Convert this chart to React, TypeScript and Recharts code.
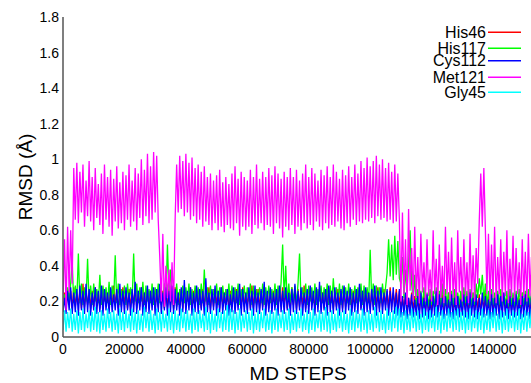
import React from 'react';
import { LineChart, Line, XAxis, YAxis, Legend, Label } from 'recharts';

// Sampling interval of the digitised trajectory (MD steps between samples)
const STEP = 500;

const his46: number[] = [
  0.17, 0.25, 0.16, 0.27, 0.18, 0.26, 0.16, 0.28, 0.17, 0.25,
  0.18, 0.26, 0.16, 0.3, 0.17, 0.25, 0.18, 0.27, 0.16, 0.26,
  0.17, 0.28, 0.18, 0.25, 0.16, 0.27, 0.17, 0.26, 0.18, 0.25,
  0.16, 0.27, 0.17, 0.29, 0.18, 0.26, 0.16, 0.25, 0.17, 0.28,
  0.18, 0.26, 0.16, 0.27, 0.17, 0.25, 0.18, 0.3, 0.16, 0.26,
  0.17, 0.28, 0.18, 0.25, 0.16, 0.27, 0.17, 0.26, 0.18, 0.25,
  0.16, 0.27, 0.17, 0.28, 0.18, 0.26, 0.16, 0.25, 0.17, 0.27,
  0.18, 0.26, 0.16, 0.28, 0.17, 0.25, 0.18, 0.27, 0.16, 0.26,
  0.17, 0.25, 0.18, 0.28, 0.16, 0.26, 0.17, 0.27, 0.18, 0.25,
  0.16, 0.27, 0.17, 0.26, 0.18, 0.28, 0.16, 0.25, 0.17, 0.27,
  0.18, 0.26, 0.16, 0.28, 0.17, 0.25, 0.18, 0.27, 0.16, 0.26,
  0.17, 0.25, 0.16, 0.27, 0.18, 0.26, 0.16, 0.28, 0.17, 0.25,
  0.18, 0.26, 0.16, 0.29, 0.17, 0.25, 0.18, 0.27, 0.16, 0.26,
  0.17, 0.28, 0.18, 0.25, 0.16, 0.27, 0.17, 0.26, 0.18, 0.25,
  0.16, 0.27, 0.17, 0.28, 0.18, 0.26, 0.16, 0.25, 0.17, 0.28,
  0.18, 0.26, 0.16, 0.27, 0.17, 0.25, 0.18, 0.29, 0.16, 0.26,
  0.17, 0.28, 0.18, 0.25, 0.16, 0.27, 0.17, 0.26, 0.18, 0.25,
  0.16, 0.27, 0.17, 0.28, 0.18, 0.26, 0.16, 0.25, 0.17, 0.27,
  0.18, 0.26, 0.16, 0.28, 0.17, 0.25, 0.18, 0.27, 0.16, 0.26,
  0.17, 0.25, 0.18, 0.28, 0.16, 0.26, 0.17, 0.27, 0.18, 0.25,
  0.16, 0.27, 0.17, 0.26, 0.18, 0.28, 0.16, 0.25, 0.17, 0.27,
  0.18, 0.26, 0.16, 0.28, 0.17, 0.25, 0.18, 0.27, 0.16, 0.26,
  0.15, 0.23, 0.16, 0.24, 0.15, 0.22, 0.16, 0.25, 0.15, 0.23,
  0.16, 0.24, 0.15, 0.22, 0.16, 0.25, 0.15, 0.23, 0.16, 0.24,
  0.15, 0.22, 0.16, 0.25, 0.15, 0.23, 0.16, 0.24, 0.15, 0.22,
  0.16, 0.25, 0.15, 0.23, 0.16, 0.24, 0.15, 0.22, 0.16, 0.25,
  0.15, 0.23, 0.16, 0.24, 0.15, 0.22, 0.16, 0.25, 0.15, 0.23,
  0.16, 0.24, 0.15, 0.22, 0.16, 0.25, 0.15, 0.23, 0.16, 0.24,
  0.15, 0.22, 0.16, 0.25, 0.15, 0.23, 0.16, 0.24, 0.15, 0.22,
  0.16, 0.25, 0.15, 0.23, 0.16, 0.24, 0.15, 0.22, 0.16, 0.25,
  0.15, 0.23, 0.16, 0.24, 0.15, 0.22, 0.16,
];

const his117: number[] = [
  0.15, 0.24, 0.18, 0.28, 0.2, 0.3, 0.42, 0.19, 0.29, 0.2,
  0.47, 0.19, 0.3, 0.18, 0.28, 0.2, 0.44, 0.19, 0.29, 0.18,
  0.3, 0.2, 0.27, 0.19, 0.35, 0.18, 0.29, 0.2, 0.28, 0.19,
  0.31, 0.18, 0.29, 0.2, 0.46, 0.19, 0.3, 0.18, 0.27, 0.2,
  0.29, 0.18, 0.3, 0.2, 0.28, 0.19, 0.47, 0.2, 0.3, 0.19,
  0.28, 0.2, 0.31, 0.18, 0.29, 0.2, 0.27, 0.19, 0.3, 0.18,
  0.28, 0.2, 0.3, 0.19, 0.27, 0.21, 0.3, 0.22, 0.52, 0.25,
  0.38, 0.2, 0.28, 0.19, 0.3, 0.18, 0.27, 0.2, 0.29, 0.19,
  0.28, 0.2, 0.3, 0.18, 0.27, 0.19, 0.29, 0.2, 0.28, 0.18,
  0.3, 0.19, 0.38, 0.2, 0.28, 0.18, 0.29, 0.2, 0.27, 0.19,
  0.3, 0.18, 0.28, 0.2, 0.29, 0.19, 0.27, 0.2, 0.3, 0.18,
  0.29, 0.2, 0.28, 0.19, 0.3, 0.18, 0.27, 0.2, 0.29, 0.19,
  0.28, 0.2, 0.3, 0.18, 0.29, 0.19, 0.27, 0.2, 0.28, 0.19,
  0.3, 0.18, 0.28, 0.2, 0.29, 0.19, 0.27, 0.2, 0.3, 0.18,
  0.29, 0.2, 0.31, 0.52, 0.22, 0.4, 0.2, 0.3, 0.19, 0.28,
  0.2, 0.29, 0.18, 0.3, 0.47, 0.2, 0.28, 0.19, 0.3, 0.18,
  0.29, 0.2, 0.28, 0.19, 0.3, 0.18, 0.27, 0.2, 0.29, 0.19,
  0.28, 0.2, 0.3, 0.18, 0.29, 0.19, 0.33, 0.2, 0.28, 0.19,
  0.3, 0.18, 0.29, 0.2, 0.28, 0.19, 0.3, 0.18, 0.27, 0.2,
  0.29, 0.19, 0.28, 0.2, 0.3, 0.18, 0.29, 0.2, 0.28, 0.19,
  0.49, 0.2, 0.3, 0.18, 0.29, 0.2, 0.28, 0.19, 0.3, 0.2,
  0.28, 0.36, 0.55, 0.34, 0.52, 0.32, 0.57, 0.35, 0.54, 0.33,
  0.3, 0.45, 0.22, 0.38, 0.25, 0.42, 0.6, 0.3, 0.2, 0.35,
  0.18, 0.27, 0.19, 0.26, 0.17, 0.28, 0.18, 0.25, 0.17, 0.27,
  0.18, 0.26, 0.17, 0.28, 0.19, 0.26, 0.18, 0.3, 0.17, 0.27,
  0.18, 0.25, 0.17, 0.26, 0.18, 0.27, 0.17, 0.25, 0.18, 0.26,
  0.17, 0.28, 0.19, 0.26, 0.18, 0.27, 0.17, 0.25, 0.18, 0.3,
  0.22, 0.33, 0.24, 0.35, 0.2, 0.3, 0.18, 0.26, 0.17, 0.27,
  0.18, 0.25, 0.17, 0.26, 0.18, 0.27, 0.17, 0.25, 0.18, 0.26,
  0.17, 0.27, 0.18, 0.25, 0.17, 0.26, 0.18, 0.27, 0.17, 0.25,
  0.18, 0.26, 0.17, 0.27, 0.18, 0.25, 0.17,
];

const cys112: number[] = [
  0.14, 0.22, 0.13, 0.26, 0.15, 0.28, 0.13, 0.25, 0.14, 0.27,
  0.12, 0.29, 0.15, 0.26, 0.13, 0.3, 0.14, 0.27, 0.12, 0.25,
  0.15, 0.28, 0.13, 0.26, 0.14, 0.29, 0.12, 0.27, 0.15, 0.25,
  0.13, 0.28, 0.14, 0.24, 0.15, 0.27, 0.12, 0.3, 0.14, 0.26,
  0.13, 0.28, 0.15, 0.25, 0.12, 0.27, 0.14, 0.31, 0.13, 0.26,
  0.15, 0.28, 0.12, 0.25, 0.14, 0.29, 0.13, 0.26, 0.15, 0.28,
  0.12, 0.27, 0.14, 0.3, 0.13, 0.25, 0.15, 0.28, 0.12, 0.26,
  0.14, 0.29, 0.13, 0.27, 0.15, 0.25, 0.12, 0.28, 0.14, 0.32,
  0.13, 0.26, 0.15, 0.28, 0.12, 0.25, 0.14, 0.29, 0.13, 0.27,
  0.15, 0.26, 0.12, 0.33, 0.14, 0.25, 0.13, 0.27, 0.15, 0.29,
  0.12, 0.26, 0.14, 0.28, 0.13, 0.25, 0.15, 0.27, 0.12, 0.24,
  0.14, 0.28, 0.13, 0.26, 0.15, 0.3, 0.12, 0.27, 0.14, 0.25,
  0.13, 0.28, 0.15, 0.26, 0.12, 0.29, 0.14, 0.25, 0.13, 0.27,
  0.15, 0.31, 0.12, 0.26, 0.14, 0.28, 0.13, 0.25, 0.15, 0.27,
  0.12, 0.29, 0.14, 0.26, 0.13, 0.28, 0.15, 0.25, 0.12, 0.27,
  0.14, 0.3, 0.13, 0.26, 0.15, 0.28, 0.12, 0.25, 0.14, 0.27,
  0.13, 0.29, 0.15, 0.26, 0.12, 0.28, 0.14, 0.31, 0.13, 0.25,
  0.15, 0.27, 0.12, 0.29, 0.14, 0.26, 0.13, 0.28, 0.15, 0.25,
  0.12, 0.27, 0.14, 0.29, 0.13, 0.26, 0.15, 0.28, 0.12, 0.25,
  0.14, 0.27, 0.13, 0.3, 0.15, 0.26, 0.12, 0.28, 0.14, 0.25,
  0.13, 0.27, 0.15, 0.29, 0.12, 0.26, 0.14, 0.28, 0.13, 0.25,
  0.15, 0.27, 0.12, 0.26, 0.14, 0.28, 0.13, 0.25, 0.12, 0.27,
  0.11, 0.23, 0.12, 0.25, 0.1, 0.22, 0.12, 0.24, 0.11, 0.21,
  0.12, 0.23, 0.1, 0.25, 0.11, 0.22, 0.12, 0.24, 0.1, 0.21,
  0.11, 0.23, 0.12, 0.26, 0.11, 0.24, 0.12, 0.22, 0.1, 0.23,
  0.12, 0.21, 0.11, 0.24, 0.1, 0.22, 0.12, 0.23, 0.11, 0.21,
  0.12, 0.24, 0.11, 0.23, 0.1, 0.25, 0.12, 0.22, 0.11, 0.24,
  0.1, 0.22, 0.12, 0.25, 0.11, 0.23, 0.12, 0.21, 0.1, 0.24,
  0.11, 0.22, 0.12, 0.24, 0.1, 0.23, 0.11, 0.25, 0.12, 0.21,
  0.1, 0.23, 0.12, 0.22, 0.11, 0.24, 0.12, 0.21, 0.1, 0.23,
  0.11, 0.24, 0.12, 0.22, 0.1, 0.23, 0.11,
];

const met121: number[] = [
  0.2, 0.55, 0.15, 0.62, 0.25, 0.6, 0.3, 0.95, 0.66, 0.98,
  0.64, 0.93, 0.7, 0.97, 0.62, 0.88, 0.68, 0.99, 0.65, 0.9,
  0.6, 0.95, 0.67, 0.86, 0.63, 0.92, 0.58, 0.97, 0.66, 0.9,
  0.62, 0.94, 0.57, 0.89, 0.65, 0.96, 0.61, 0.87, 0.64, 0.93,
  0.6, 0.91, 0.66, 0.97, 0.62, 0.88, 0.65, 0.95, 0.6, 0.92,
  0.67, 1.0, 0.63, 0.94, 0.68, 1.03, 0.64, 0.96, 0.66, 1.04,
  0.7, 1.02, 0.66, 0.45, 0.2, 0.58, 0.17, 0.4, 0.22, 0.38,
  0.2, 0.42, 0.18, 0.66, 0.97, 0.7, 1.02, 0.72, 0.99, 0.68,
  1.03, 0.7, 0.98, 0.66, 1.01, 0.68, 0.95, 0.64, 0.97, 0.66,
  0.93, 0.62, 0.96, 0.65, 0.9, 0.63, 0.92, 0.6, 0.88, 0.64,
  0.91, 0.6, 0.94, 0.62, 0.87, 0.59, 0.9, 0.63, 0.86, 0.61,
  0.92, 0.6, 0.96, 0.64, 0.89, 0.57, 0.93, 0.62, 0.9, 0.6,
  0.88, 0.62, 0.94, 0.58, 0.9, 0.63, 0.97, 0.61, 0.89, 0.64,
  0.93, 0.6, 0.9, 0.63, 0.95, 0.62, 0.91, 0.58, 0.96, 0.64,
  0.92, 0.61, 0.89, 0.56, 0.93, 0.62, 0.9, 0.6, 0.95, 0.63,
  0.9, 0.58, 0.94, 0.62, 0.88, 0.6, 0.92, 0.64, 0.97, 0.61,
  0.9, 0.63, 0.95, 0.6, 0.92, 0.65, 0.88, 0.62, 0.94, 0.6,
  0.91, 0.64, 0.96, 0.61, 0.9, 0.63, 0.97, 0.62, 0.93, 0.65,
  0.89, 0.61, 0.94, 0.6, 0.91, 0.64, 0.96, 0.62, 0.9, 0.66,
  0.97, 0.63, 0.92, 0.65, 0.99, 0.64, 0.95, 0.66, 1.01, 0.65,
  0.96, 0.67, 0.99, 0.64, 1.02, 0.68, 0.97, 0.66, 1.0, 0.67,
  0.95, 0.65, 0.98, 0.66, 0.93, 0.64, 0.97, 0.65, 0.92, 0.66,
  0.2, 0.7, 0.24, 0.55, 0.18, 0.72, 0.26, 0.5, 0.2, 0.62,
  0.22, 0.45, 0.19, 0.58, 0.25, 0.42, 0.2, 0.55, 0.23, 0.38,
  0.2, 0.6, 0.24, 0.44, 0.18, 0.52, 0.22, 0.4, 0.19, 0.62,
  0.24, 0.48, 0.2, 0.56, 0.22, 0.42, 0.18, 0.6, 0.25, 0.45,
  0.2, 0.55, 0.23, 0.42, 0.19, 0.58, 0.22, 0.46, 0.2, 0.5,
  0.3, 0.65, 0.92, 0.62, 0.95, 0.6, 0.24, 0.58, 0.2, 0.52,
  0.22, 0.62, 0.19, 0.45, 0.24, 0.55, 0.2, 0.48, 0.23, 0.6,
  0.19, 0.44, 0.22, 0.57, 0.2, 0.5, 0.24, 0.42, 0.18, 0.55,
  0.22, 0.48, 0.2, 0.58, 0.23, 0.45, 0.2,
];

const gly45: number[] = [
  0.04, 0.15, 0.03, 0.14, 0.05, 0.16, 0.03, 0.13, 0.04, 0.15,
  0.02, 0.14, 0.04, 0.16, 0.03, 0.13, 0.05, 0.15, 0.03, 0.14,
  0.04, 0.17, 0.03, 0.14, 0.02, 0.15, 0.04, 0.13, 0.03, 0.16,
  0.05, 0.14, 0.03, 0.15, 0.04, 0.13, 0.02, 0.16, 0.04, 0.14,
  0.03, 0.15, 0.05, 0.13, 0.03, 0.16, 0.04, 0.14, 0.02, 0.15,
  0.04, 0.13, 0.03, 0.17, 0.05, 0.14, 0.03, 0.15, 0.04, 0.13,
  0.02, 0.16, 0.04, 0.14, 0.03, 0.15, 0.05, 0.13, 0.03, 0.16,
  0.04, 0.14, 0.02, 0.15, 0.04, 0.13, 0.03, 0.16, 0.05, 0.14,
  0.03, 0.15, 0.04, 0.13, 0.02, 0.16, 0.04, 0.14, 0.03, 0.15,
  0.05, 0.13, 0.03, 0.17, 0.04, 0.14, 0.02, 0.15, 0.04, 0.13,
  0.03, 0.16, 0.05, 0.14, 0.03, 0.15, 0.04, 0.18, 0.03, 0.16,
  0.04, 0.15, 0.02, 0.14, 0.04, 0.16, 0.03, 0.13, 0.05, 0.15,
  0.03, 0.14, 0.04, 0.16, 0.02, 0.13, 0.04, 0.15, 0.03, 0.14,
  0.05, 0.16, 0.03, 0.13, 0.04, 0.15, 0.02, 0.14, 0.04, 0.16,
  0.03, 0.13, 0.05, 0.15, 0.03, 0.14, 0.04, 0.16, 0.02, 0.13,
  0.04, 0.15, 0.03, 0.14, 0.05, 0.16, 0.03, 0.13, 0.04, 0.15,
  0.02, 0.14, 0.04, 0.16, 0.03, 0.13, 0.05, 0.15, 0.03, 0.14,
  0.04, 0.17, 0.03, 0.14, 0.02, 0.15, 0.04, 0.13, 0.03, 0.16,
  0.05, 0.14, 0.03, 0.15, 0.04, 0.13, 0.02, 0.16, 0.04, 0.14,
  0.03, 0.15, 0.05, 0.13, 0.03, 0.16, 0.04, 0.14, 0.02, 0.15,
  0.04, 0.13, 0.03, 0.17, 0.05, 0.14, 0.03, 0.15, 0.04, 0.13,
  0.02, 0.16, 0.04, 0.14, 0.03, 0.15, 0.05, 0.17, 0.03, 0.16,
  0.04, 0.14, 0.02, 0.15, 0.04, 0.13, 0.03, 0.16, 0.05, 0.14,
  0.03, 0.15, 0.04, 0.13, 0.02, 0.16, 0.04, 0.14, 0.03, 0.15,
  0.05, 0.13, 0.03, 0.17, 0.04, 0.14, 0.02, 0.15, 0.04, 0.13,
  0.03, 0.16, 0.05, 0.14, 0.03, 0.15, 0.04, 0.16, 0.03, 0.14,
  0.04, 0.15, 0.02, 0.14, 0.04, 0.16, 0.03, 0.13, 0.05, 0.15,
  0.03, 0.14, 0.04, 0.16, 0.02, 0.13, 0.04, 0.15, 0.03, 0.14,
  0.05, 0.16, 0.03, 0.13, 0.04, 0.15, 0.02, 0.14, 0.04, 0.16,
  0.03, 0.13, 0.05, 0.15, 0.03, 0.14, 0.04, 0.16, 0.02, 0.13,
  0.04, 0.15, 0.03, 0.14, 0.05, 0.16, 0.03,
];

const xTicks = [0, 20000, 40000, 60000, 80000, 100000, 120000, 140000];
const yTicks = [0, 0.2, 0.4, 0.6, 0.8, 1, 1.2, 1.4, 1.6, 1.8];
const yTickLabels = ['0', '0.2', '0.4', '0.6', '0.8', '1', '1.2', '1.4', '1.6', '1.8'];

const seriesDefs = [
  { key: 'His46', values: his46, color: '#ff0000' },
  { key: 'His117', values: his117, color: '#00ff00' },
  { key: 'Cys112', values: cys112, color: '#0000ff' },
  { key: 'Met121', values: met121, color: '#ff00ff' },
  { key: 'Gly45', values: gly45, color: '#00ffff' },
];

const rows = met121.map((_, i) => {
  const r: Record<string, number> = { step: i * STEP };
  seriesDefs.forEach((s) => {
    r[s.key] = s.values[i];
  });
  return r;
});

const FONT = '"Liberation Sans", Arial, Helvetica, sans-serif';
const AXIS = '#555555';

const XTick = (props: any) => {
  const { x, payload } = props;
  return (
    <text x={x} y={354} textAnchor="middle" fontFamily={FONT} fontSize={14} fill="#000">
      {String(payload.value)}
    </text>
  );
};

const YTick = (props: any) => {
  const { y, payload } = props;
  const idx = yTicks.indexOf(payload.value);
  const label = idx >= 0 ? yTickLabels[idx] : String(payload.value);
  return (
    <text x={59} y={y + 5} textAnchor="end" fontFamily={FONT} fontSize={14} fill="#000">
      {label}
    </text>
  );
};

const legendRows = [32.3, 48.3, 60.7, 77.3, 92.3];

const renderLegend = () => (
  <svg width={540} height={110} style={{ display: 'block' }}>
    {seriesDefs.map((s, i) => (
      <g key={s.key}>
        <text
          x={486}
          y={legendRows[i] + 5.7}
          textAnchor="end"
          fontFamily={FONT}
          fontSize={16}
          fill="#000"
        >
          {s.key}
        </text>
        <line x1={488} x2={521} y1={legendRows[i]} y2={legendRows[i]} stroke={s.color} strokeWidth={1.5} />
      </g>
    ))}
  </svg>
);

const Empty = () => <g />;

export default function App() {
  return (
    <div
      style={{
        position: 'absolute',
        left: 0,
        top: 0,
        width: 531,
        height: 383,
        overflow: 'hidden',
        background: '#fff',
      }}
    >
      <LineChart width={540} height={383} data={rows} margin={{ top: 17, right: 7, bottom: 0, left: 0 }}>
        <XAxis
          xAxisId="b"
          dataKey="step"
          type="number"
          domain={[0, 153000]}
          ticks={xTicks}
          allowDataOverflow
          orientation="bottom"
          height={46}
          axisLine={{ stroke: AXIS, strokeWidth: 1.5 }}
          tickLine={false}
          tick={XTick}
        >
          <Label
            content={() => (
              <text x={298} y={380} textAnchor="middle" fontFamily={FONT} fontSize={19} fill="#000">
                MD STEPS
              </text>
            )}
          />
        </XAxis>
        <XAxis
          xAxisId="bm"
          dataKey="step"
          type="number"
          domain={[0, 153000]}
          ticks={xTicks}
          allowDataOverflow
          orientation="bottom"
          mirror
          height={0}
          axisLine={false}
          tickLine={{ stroke: AXIS, strokeWidth: 1.5 }}
          tickSize={5}
          tick={Empty}
        />
        <XAxis
          xAxisId="tm"
          dataKey="step"
          type="number"
          domain={[0, 153000]}
          ticks={xTicks}
          allowDataOverflow
          orientation="top"
          mirror
          height={0}
          axisLine={{ stroke: AXIS, strokeWidth: 1.5 }}
          tickLine={{ stroke: AXIS, strokeWidth: 1.5 }}
          tickSize={5}
          tick={Empty}
        />
        <YAxis
          yAxisId="l"
          type="number"
          domain={[0, 1.8]}
          ticks={yTicks}
          allowDataOverflow
          width={63}
          axisLine={{ stroke: AXIS, strokeWidth: 1.5 }}
          tickLine={false}
          tick={YTick}
        >
          <Label
            content={() => (
              <text
                x={32}
                y={177}
                transform="rotate(-90 32 177)"
                textAnchor="middle"
                fontFamily={FONT}
                fontSize={19}
                fill="#000"
              >
                RMSD (Å)
              </text>
            )}
          />
        </YAxis>
        <YAxis
          yAxisId="lm"
          type="number"
          domain={[0, 1.8]}
          ticks={yTicks}
          allowDataOverflow
          mirror
          width={0}
          axisLine={false}
          tickLine={{ stroke: AXIS, strokeWidth: 1.5 }}
          tickSize={5}
          tick={Empty}
        />
        <Legend
          layout="vertical"
          align="center"
          verticalAlign="middle"
          content={renderLegend}
          wrapperStyle={{ top: 0, left: 0, width: 540, height: 110, pointerEvents: 'none' }}
        />
        {seriesDefs.map((s) => (
          <Line
            key={s.key}
            xAxisId="b"
            yAxisId="l"
            dataKey={s.key}
            type="linear"
            stroke={s.color}
            strokeWidth={1.3}
            strokeLinejoin="miter"
            dot={false}
            activeDot={false}
            isAnimationActive={false}
            legendType="line"
          />
        ))}
      </LineChart>
    </div>
  );
}
